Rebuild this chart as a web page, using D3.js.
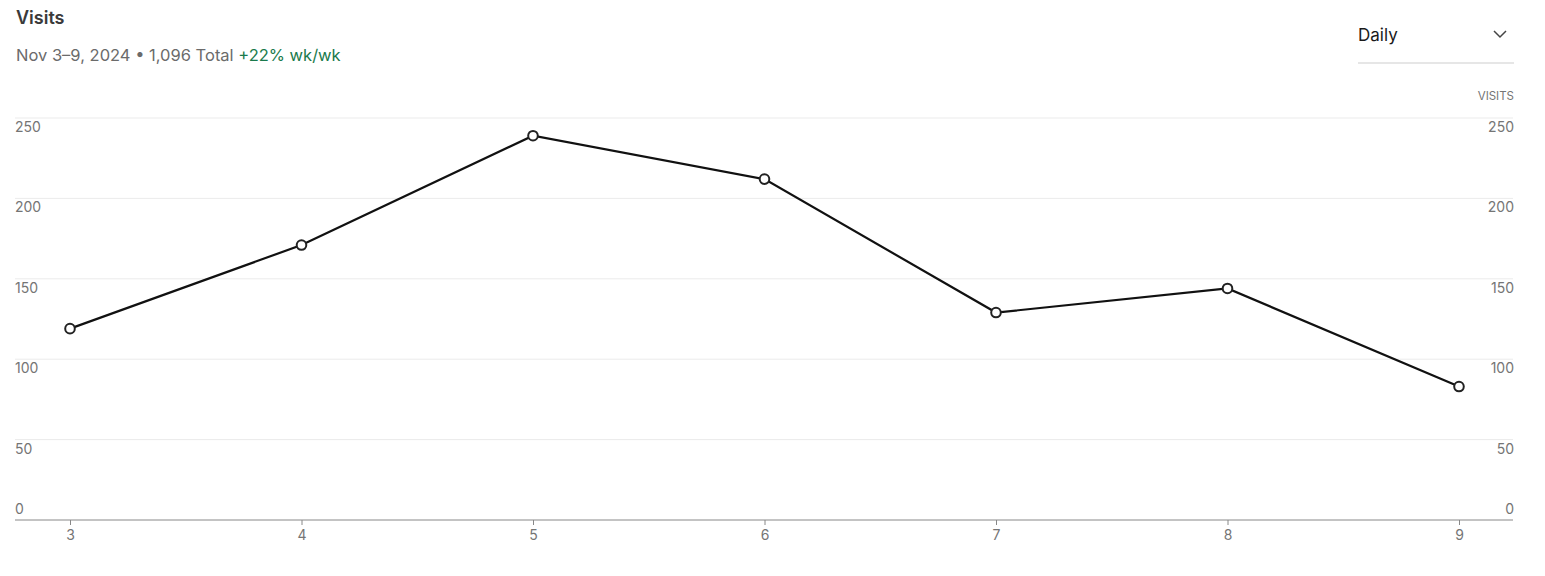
<!DOCTYPE html>
<html><head><meta charset="utf-8">
<script src="https://cdn.jsdelivr.net/npm/d3@7"></script>
<style>
body{margin:0;background:#fff;font-family:Inter,"Noto Sans",sans-serif;}
svg{display:block;}
</style></head><body>
<svg id="c" width="1545" height="576"></svg>
<script>
const days = [3,4,5,6,7,8,9];
const visits = [119,171,239,212,129,144,83];
const yTicks = [0,50,100,150,200,250];
const title = "Visits";
const subtitle = "Nov 3\u20139, 2024 \u2022 1,096 Total";
const change = "+22% wk/wk";
const period = "Daily";
const axisTitle = "VISITS";

const svg = d3.select("#c");
const plotLeft = 15, plotRight = 1513, plotTop = 118, plotBottom = 520;
const x = d3.scaleLinear().domain([3,9]).range([70,1459]);
const y = d3.scaleLinear().domain([0,250]).range([plotBottom, plotTop]);

// header
svg.append("text").attr("x",16).attr("y",24).attr("font-size",18).attr("font-weight",600)
  .attr("fill","#3a3a3a").text(title);
const st = svg.append("text").attr("x",16).attr("y",61).attr("font-size",16.5).attr("fill","#6b6b6b");
st.append("tspan").text(subtitle + " ");
st.append("tspan").attr("fill","#1a7a4c").text(change);

svg.append("text").attr("x",1358).attr("y",41).attr("font-size",17).attr("fill","#1a1a1a").text(period);
svg.append("path").attr("d","M1494,31 L1500,37 L1506,31").attr("fill","none").attr("stroke","#444").attr("stroke-width",1.5);
svg.append("line").attr("x1",1358).attr("x2",1514).attr("y1",63).attr("y2",63).attr("stroke","#e6e6e6").attr("stroke-width",2);
svg.append("text").attr("x",1514).attr("y",100).attr("text-anchor","end").attr("font-size",11.5).attr("fill","#757575").text(axisTitle);

// gridlines
svg.append("g").selectAll("line").data(yTicks.filter(d=>d>0)).join("line")
  .attr("x1",plotLeft).attr("x2",plotRight).attr("y1",d=>y(d)).attr("y2",d=>y(d))
  .attr("stroke","#ebebeb").attr("stroke-width",1);

// y labels left and right
function yLabels(xPos, anchor){
  svg.append("g").selectAll("text").data(yTicks).join("text")
    .attr("x",xPos).attr("y",d=>d===0 ? y(d)-6 : y(d)+14)
    .attr("text-anchor",anchor).attr("font-size",14).attr("fill","#757575")
    .text(d=>d);
}
yLabels(15,"start");
yLabels(1514,"end");

// x axis
const xa = svg.append("g").attr("transform",`translate(0,${plotBottom})`)
  .call(d3.axisBottom(x).tickValues(days).tickSize(5).tickPadding(5).tickFormat(d3.format("d")));
xa.select(".domain").remove();
xa.selectAll(".tick line").attr("stroke","#888");
xa.selectAll(".tick text").attr("font-size",14).attr("fill","#757575").attr("font-family","Inter,'Noto Sans',sans-serif");
svg.append("line").attr("x1",plotLeft).attr("x2",plotRight).attr("y1",plotBottom).attr("y2",plotBottom).attr("stroke","#888").attr("stroke-width",1);

// line
const data = days.map((d,i)=>({d, v:visits[i]}));
svg.append("path").datum(data)
  .attr("d", d3.line().x(p=>x(p.d)).y(p=>y(p.v)))
  .attr("fill","none").attr("stroke","#111").attr("stroke-width",2.2);
svg.append("g").selectAll("circle").data(data).join("circle")
  .attr("cx",p=>x(p.d)).attr("cy",p=>y(p.v)).attr("r",4.8)
  .attr("fill","#fff").attr("stroke","#222").attr("stroke-width",2);
</script>
</body></html>
